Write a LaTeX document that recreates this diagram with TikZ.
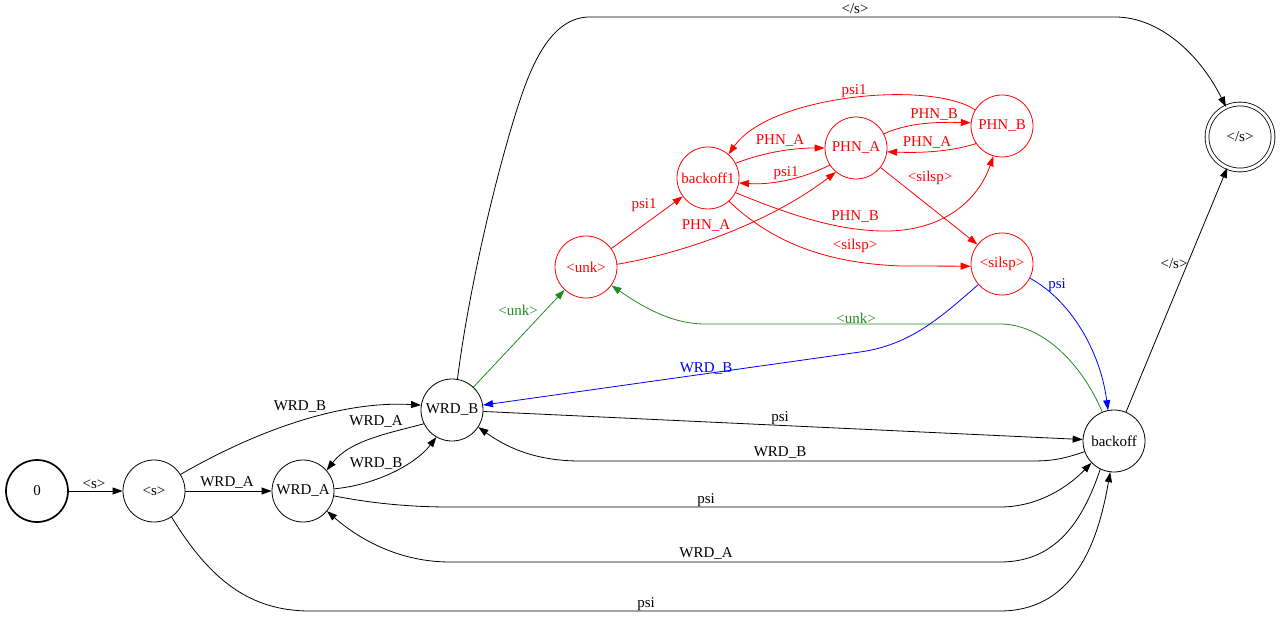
\documentclass[tikz,border=0pt]{standalone}
\usepackage{fontspec}
\setmainfont{Liberation Serif}
\usetikzlibrary{arrows.meta}
\definecolor{gvgreen}{HTML}{228B22}
\definecolor{gvblue}{HTML}{0000FF}
\definecolor{gvred}{HTML}{FF0000}
\tikzset{
  st/.style={draw, circle, line width=0.8pt, minimum size=62pt, inner sep=0pt, font=\fontsize{15}{17}\selectfont},
  lbl/.style={inner sep=0pt, font=\fontsize{15}{17}\selectfont},
  arr/.style={-{Triangle[length=10pt,width=7pt]}, line width=0.8pt},
  rd/.style={draw=gvred, text=gvred},
}
\begin{document}
\begin{tikzpicture}[x=1pt,y=-1pt]
\useasboundingbox (0,0) rectangle (1281,617);
% states
\node[st, line width=1.7pt] (n0) at (37,491) {0};
\node[st] (ns) at (154,491) {<s>};
\node[st] (wa) at (303,491) {WRD\_A};
\node[st] (wb) at (452,410) {WRD\_B};
\node[st] (bo) at (1114,441) {backoff};
\node[st, double, double distance=3pt, minimum size=66pt] (es) at (1240,137) {</s>};
\node[st, rd] (unk) at (586,267) {<unk>};
\node[st, rd] (b1) at (708,178) {backoff1};
\node[st, rd] (pa) at (856,148) {PHN\_A};
\node[st, rd] (pb) at (1002,126) {PHN\_B};
\node[st, rd] (sil) at (1002,264) {<silsp>};
% black edges
\draw[arr] (n0) -- (ns);
\draw[arr] (ns) -- (wa);
\draw[arr] (ns.32) .. controls (240,440) and (330,400) .. (wb.171);
\draw[arr] (wb.206) .. controls (390,433) and (350,440) .. (wa.41);
\draw[arr] (wa.4) .. controls (375,485) and (415,465) .. (wb.240);
\draw[arr] (wb) -- (bo);
\draw[arr] (bo.200) .. controls (1060,460) and (1050,461) .. (1030,461) -- (580,461) .. controls (540,461) and (510,450) .. (wb.-33);
\draw[arr] (wa.-9) .. controls (380,505) and (420,507) .. (450,507) -- (1000,507) .. controls (1040,507) and (1070,485) .. (bo.224);
\draw[arr] (bo.244) .. controls (1080,530) and (1050,562) .. (1000,562) -- (450,562) .. controls (400,562) and (360,540) .. (wa.-40);
\draw[arr] (ns.-56) .. controls (210,580) and (250,611) .. (310,611) -- (1000,611) .. controls (1080,611) and (1100,530) .. (bo.263);
\draw[arr] (wb.80) .. controls (470,280) and (500,160) .. (520,100) .. controls (535,55) and (555,17) .. (590,17) -- (1115,17) .. controls (1160,17) and (1200,55) .. (es.115);
\draw[arr] (bo) -- (es);
% green edges
\draw[arr, gvgreen] (wb) -- (unk);
\draw[arr, gvgreen] (bo.112) .. controls (1080,360) and (1040,324) .. (1000,324) -- (705,324) .. controls (670,324) and (640,305) .. (unk.-36);
% blue edges
\draw[arr, gvblue] (sil.221) .. controls (940,318) and (910,345) .. (860,352) -- (wb.9);
\draw[arr, gvblue] (sil.-27) .. controls (1070,300) and (1100,350) .. (bo.101);
% red edges
\draw[arr, gvred] (unk) -- (b1);
\draw[arr, gvred] (unk.5) .. controls (700,250) and (780,215) .. (pa.230);
\draw[arr, gvred] (b1.28) .. controls (770,150) and (800,148) .. (pa.180);
\draw[arr, gvred] (pa.213) .. controls (800,180) and (770,185) .. (b1.-9);
\draw[arr, gvred] (pa.27) .. controls (910,122) and (940,122) .. (pb.174);
\draw[arr, gvred] (pb.214) .. controls (950,152) and (920,153) .. (pa.-7);
\draw[arr, gvred] (pb.149) .. controls (930,80) and (770,95) .. (b1.49);
\draw[arr, gvred] (pa) -- (sil);
\draw[arr, gvred] (b1.-28) .. controls (790,215) and (840,232) .. (890,231) .. controls (950,229) and (980,195) .. (pb.254);
\draw[arr, gvred] (b1.-48) .. controls (775,245) and (830,263) .. (900,266) -- (sil.184);
% labels
\node[lbl] (l1) at (94,484) {<s>};
\node[lbl] (l2) at (227,483) {WRD\_A};
\node[lbl] (l3) at (300,407) {WRD\_B};
\node[lbl] (l4) at (376,422) {WRD\_A};
\node[lbl] (l5) at (376,464) {WRD\_B};
\node[lbl] (l6) at (780,418) {psi};
\node[lbl] (l7) at (780,453) {WRD\_B};
\node[lbl] (l8) at (706,500) {psi};
\node[lbl] (l9) at (706,554) {WRD\_A};
\node[lbl] (l10) at (646,604) {psi};
\node[lbl] (l11) at (855,9) {</s>};
\node[lbl] (l12) at (1174,264) {</s>};
\node[lbl, text=gvgreen] (l13) at (518,310) {<unk>};
\node[lbl, text=gvgreen] (l14) at (856,318) {<unk>};
\node[lbl, text=gvblue] (l15) at (706,369) {WRD\_B};
\node[lbl, text=gvblue] (l16) at (1057,285) {psi};
\node[lbl, text=gvred] (l17) at (644,205) {psi1};
\node[lbl, text=gvred] (l18) at (706,226) {PHN\_A};
\node[lbl, text=gvred] (l19) at (780,141) {PHN\_A};
\node[lbl, text=gvred] (l20) at (786,173) {psi1};
\node[lbl, text=gvred] (l21) at (934,115) {PHN\_B};
\node[lbl, text=gvred] (l22) at (927,143) {PHN\_A};
\node[lbl, text=gvred] (l23) at (854,91) {psi1};
\node[lbl, text=gvred] (l24) at (930,178) {<silsp>};
\node[lbl, text=gvred] (l25) at (855,217) {PHN\_B};
\node[lbl, text=gvred] (l26) at (855,246) {<silsp>};
\end{tikzpicture}
\end{document}
